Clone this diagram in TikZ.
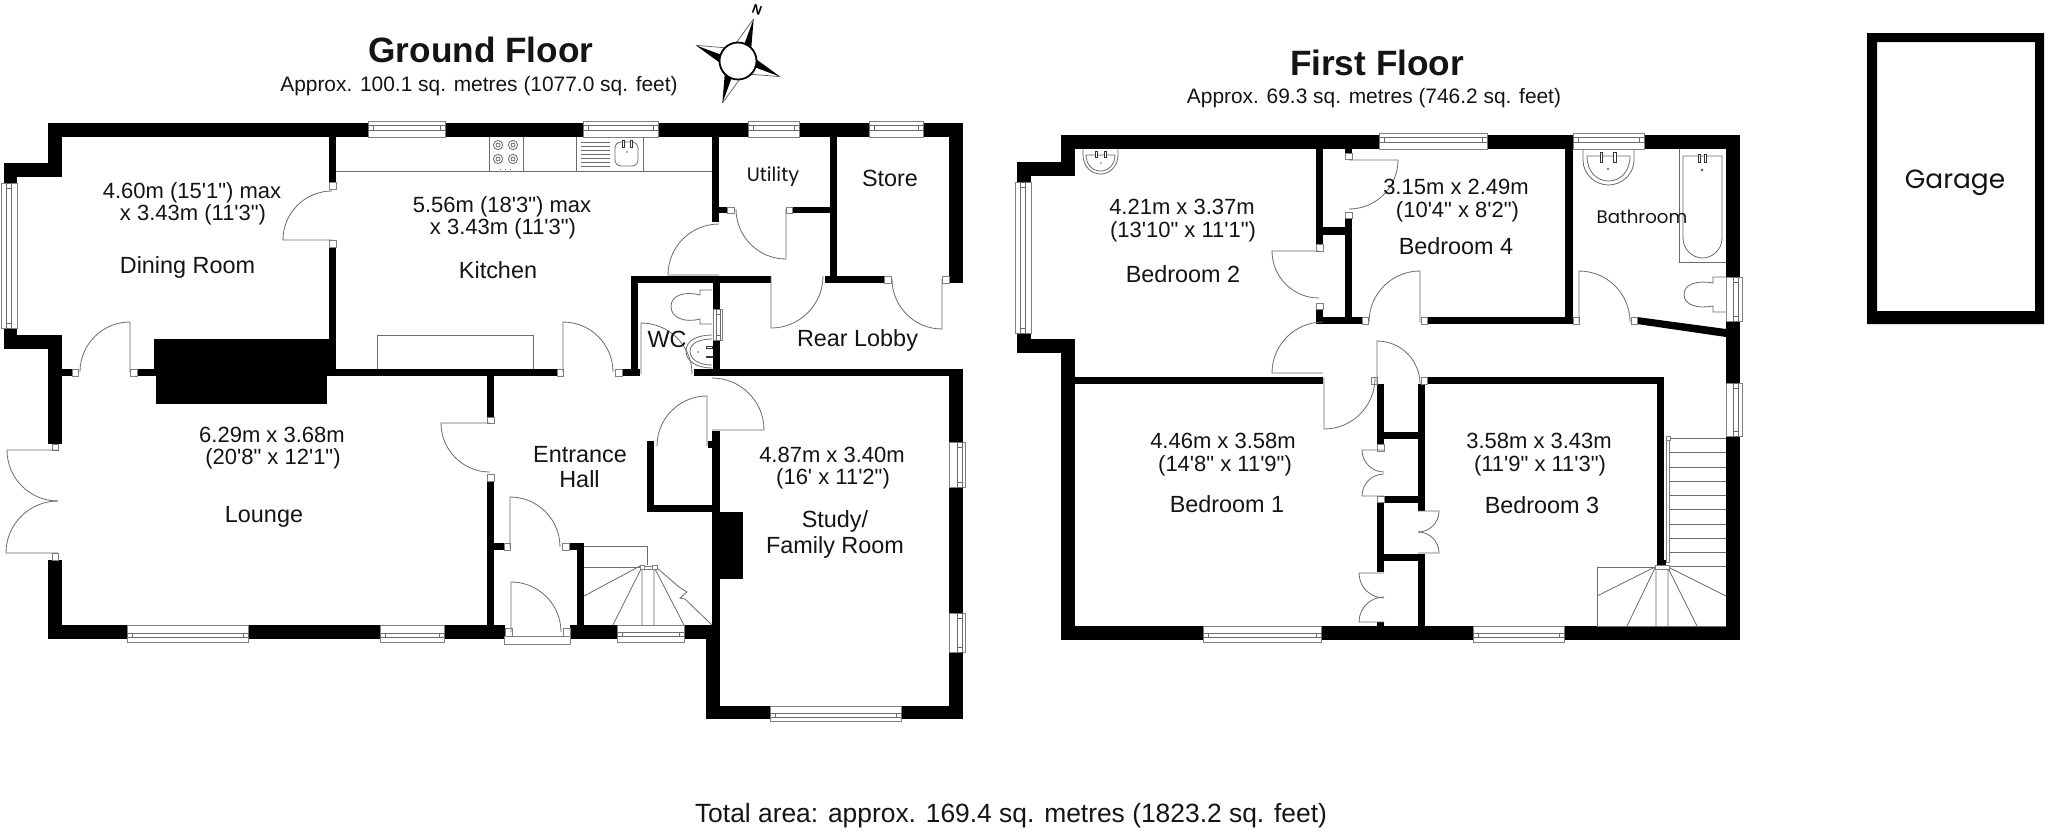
\documentclass[tikz,border=0pt]{standalone}
\usepackage{fontspec}
\newfontfamily\arial{Liberation Sans}
\newfontfamily\geo{Poppins}
\tikzset{
  wall/.style={fill=black},
  thin line/.style={draw=black!58,line width=0.4pt},
  frame box/.style={draw=black!50,line width=0.4pt,fill=white},
  tap/.style={draw=black!80,line width=0.35pt,fill=white},
  lbl/.style={anchor=base,inner sep=0pt,outer sep=0pt,text=black!92}
}
\newcommand{\W}[4]{\fill[wall] (#1,#2) rectangle (#3,#4);}
\newcommand{\Fr}[4]{\draw[frame box] (#1,#2) rectangle (#3,#4);}
% door: hinge x,y, start angle, end angle, radius
\newcommand{\Dr}[5]{\draw[thin line] (#1,#2) -- ++(#3:#5) arc[start angle=#3,end angle=#4,radius=#5];}
\newcommand{\WinH}[6]{\draw[frame box] (#1,#3) rectangle (#2,#4);
  \draw[thin line] (#1,#5) rectangle (#1+5,#6) (#2-5,#5) rectangle (#2,#6) (#1+5,#5) rectangle (#2-5,#6);}
\newcommand{\WinV}[6]{\draw[frame box] (#1,#3) rectangle (#2,#4);
  \draw[thin line] (#5,#3) rectangle (#6,#3+5) (#5,#4-5) rectangle (#6,#4) (#5,#3+5) rectangle (#6,#4-5);}
\newcommand{\Tx}[4]{\node[lbl,font=\arial\fontsize{#1}{#1}\selectfont] at (#2,#3) {#4};}
\newcommand{\Ring}[2]{\draw[thin line] (#1,#2) circle[radius=4.6] (#1,#2) circle[radius=2];}
\usetikzlibrary{calc}
\begin{document}
\begin{tikzpicture}[x=0.5pt,y=-0.5pt]
\useasboundingbox (0,0) rectangle (2048,832);
\fill[white] (0,0) rectangle (2048,832);

%% ===== GROUND FLOOR WALLS =====
\W{48}{123}{963}{137}      % top
\W{48}{123}{62}{177}
\W{4}{163}{62}{177}
\W{4}{163}{17}{184}
\W{4}{327}{17}{349}
\W{4}{335}{62}{349}
\W{48}{335}{62}{444}
\W{48}{560}{62}{639}
\W{48}{625}{505}{639}      % bottom
\W{570}{625}{720}{639}
\W{62}{369}{72}{376}       % dining / lounge
\W{137}{369}{154}{376}
\W{154}{339}{336}{369}     % chimney
\W{154}{369}{336}{376}
\W{156}{376}{327}{404}
\W{336}{369}{557}{376}
\W{622}{369}{640}{376}
\W{694}{369}{963}{376}
\W{329}{137}{336}{182}     % dining / kitchen
\W{329}{247}{336}{339}
\W{487}{376}{494}{417}     % lounge / hall
\W{487}{481}{494}{625}
\W{494}{543}{504}{550}     % porch
\W{569}{543}{584}{550}
\W{577}{543}{584}{625}
\W{712}{137}{719}{222}     % utility
\W{719}{207}{727}{213}
\W{792}{207}{830}{213}
\W{830}{137}{837}{276}     % store
\W{631}{276}{771}{283}     % rear
\W{825}{276}{884}{283}
\W{830}{270}{837}{283}
\W{949}{123}{963}{283}
\W{631}{276}{638}{376}     % WC
\W{713}{283}{720}{376}
\W{949}{369}{963}{719}     % study
\W{706}{625}{720}{719}
\W{706}{706}{963}{719}
\W{712}{431}{720}{625}
\W{720}{512}{743}{579}
\W{647}{441}{654}{512}
\W{647}{505}{720}{512}
\W{708}{441}{712}{448}

%% ===== GROUND FLOOR WINDOWS =====
\WinH{368}{445}{121}{137}{125}{130}
\WinH{583}{658}{121}{137}{125}{130}
\WinH{748}{799}{121}{137}{125}{130}
\WinH{869}{923}{121}{137}{125}{130}
\WinH{127}{248}{625}{642}{633}{637}
\WinH{380}{444}{625}{642}{633}{637}
\WinH{617}{684}{625}{642}{632}{636}
\WinH{770}{901}{706}{721}{713}{717}
\WinV{1.5}{17}{183}{328}{6}{11}
\WinV{949}{965}{442}{487}{957}{962}
\WinV{949}{965}{613}{652}{957}{962}
\WinV{713}{722}{309}{340}{716}{720}

%% frames
\Fr{329}{182}{336}{189}\Fr{329}{240}{336}{247}
\Fr{72}{369}{78}{376}\Fr{130}{369}{137}{376}
\Fr{52}{444}{58}{450}\Fr{52}{553}{58}{560}
\Fr{557}{369}{563}{376}\Fr{615}{369}{622}{376}
\Fr{487}{417}{494}{423}\Fr{487}{474}{494}{481}
\Fr{504}{543}{510}{550}\Fr{562}{543}{569}{550}
\Fr{505}{628}{512}{636}\Fr{563}{628}{570}{636}
\Fr{727}{207}{734}{213}\Fr{786}{207}{792}{213}
\Fr{884}{276}{891}{283}\Fr{942}{276}{949}{283}
\draw[frame box] (504,636) rectangle (570,644);

%% doors
\Dr{130}{372}{-90}{-180}{50}
\Dr{332}{240}{180}{270}{49}
\Dr{58}{450}{180}{90}{51}
\Dr{58}{553}{180}{270}{52}
\Dr{490}{423}{180}{90}{49}
\Dr{510}{547}{-90}{0}{50}
\Dr{511}{632}{-90}{0}{50}
\Dr{707}{446}{-90}{-180}{50}
\Dr{712}{430}{0}{-90}{52}
\Dr{563}{372}{-90}{0}{50}
\Dr{641}{374}{-90}{0}{51}
\Dr{786}{209}{90}{180}{50}
\Dr{719}{275}{180}{270}{51}
\Dr{771}{276}{90}{0}{52}
\Dr{942}{279}{90}{180}{50}

%% kitchen fittings
\draw[thin line] (336,171) -- (712,171);
\draw[thin line] (489,137) -- (489,171) (523,137) -- (523,171);
\Ring{498}{145}\Ring{513}{145}\Ring{498}{159}\Ring{513}{159}
\draw[thin line,dotted] (500,169) -- (514,169);
\draw[thin line] (576,137) -- (576,171) (643,137) -- (643,171);
\foreach \yy in {142,146,150,154,158,162,166} \draw[thin line] (581,\yy) -- (610,\yy);
\draw[thin line,rounded corners=3pt] (615,142) rectangle (638,166);
\draw[tap] (622,140) rectangle (624,147) (630,140) rectangle (632,147);
\fill[black!60] (627,152) circle[radius=0.9];
\draw[thin line] (377,369) -- (377,335) -- (533,335) -- (533,369);

%% WC fittings
\draw[thin line] (712,290) -- (700,290) -- (700,295) .. controls (685,291) and (671,295) .. (671,306.5) .. controls (671,318) and (685,323) .. (700,319) -- (700,324) -- (712,324);
\draw[thin line] (712,335) .. controls (698,335) and (686,340) .. (686,351) .. controls (686,362) and (698,368) .. (712,368);
\draw[thin line] (712,339) .. controls (700,339) and (690,343) .. (690,351) .. controls (690,360) and (700,365) .. (712,365);
\draw[tap] (706,346.5) rectangle (712,348) (706,356) rectangle (712,357.5);
\fill[black!60] (698,352) circle[radius=0.9];

%% ground stairs
\draw[thin line] (584,546) -- (647,546) -- (647,565);
\draw[thin line] (584,567) -- (640,567);
\draw[thin line] (640,566) -- (584,596) (641,569) -- (613,625) (642,569) -- (642,625) (654,569) -- (654,625) (655,569) -- (684,625);
\draw[thin line] (657,568) -- (679,587) -- (687,592) -- (680,598) -- (685,599) -- (712,625);
\draw[frame box] (644,566) rectangle (652,569);
\draw[frame box] (640,565) rectangle (644,569);
\draw[frame box] (652,565) rectangle (657,569);

%% ===== FIRST FLOOR WALLS =====
\W{1061}{135}{1740}{149}
\W{1061}{135}{1075}{176}
\W{1017}{162}{1075}{176}
\W{1017}{162}{1031}{182}
\W{1017}{333}{1031}{353}
\W{1017}{339}{1075}{353}
\W{1061}{339}{1075}{640}
\W{1061}{626}{1740}{640}
\W{1726}{135}{1740}{640}
\W{1075}{377}{1323}{384}
\W{1316}{149}{1323}{244}
\W{1316}{309}{1323}{324}
\W{1323}{317}{1362}{324}
\W{1323}{227}{1348}{235}
\W{1345}{218}{1352}{320}
\W{1345}{149}{1352}{153}
\W{1427}{317}{1573}{324}
\W{1565}{149}{1573}{324}
\fill[wall] (1637,317) -- (1726,329) -- (1726,337) -- (1637,324) -- cycle;
\W{1377}{384}{1384}{444}
\W{1377}{502}{1384}{572}
\W{1377}{622}{1384}{630}
\W{1418}{384}{1425}{511}
\W{1418}{554}{1425}{630}
\W{1384}{432}{1418}{439}
\W{1384}{496}{1418}{503}
\W{1384}{554}{1425}{561}
\W{1427}{377}{1664}{384}
\W{1657}{377}{1664}{560}
\W{1657}{560}{1666}{566}

%% first floor windows
\WinH{1379}{1487}{133}{149}{137}{142}
\WinH{1573}{1644}{133}{149}{137}{142}
\WinH{1203}{1321}{626}{642}{633}{637}
\WinH{1473}{1564}{626}{642}{633}{637}
\WinV{1015}{1031}{182}{333}{1020}{1025}
\WinV{1726}{1742}{277}{321}{1733}{1738}
\WinV{1726}{1742}{383}{436}{1733}{1738}

%% frames
\Fr{1345}{153}{1352}{159}\Fr{1345}{212}{1352}{218}
\Fr{1316}{244}{1323}{251}\Fr{1316}{303}{1323}{309}
\Fr{1362}{317}{1368}{324}\Fr{1421}{317}{1427}{324}
\Fr{1573}{317}{1579}{324}\Fr{1631}{317}{1637}{324}
\Fr{1371}{377}{1377}{384}\Fr{1421}{377}{1427}{384}
\Fr{1377}{444}{1384}{451}\Fr{1377}{496}{1384}{502}

%% doors
\Dr{1349}{160}{0}{90}{49}
\Dr{1319}{251}{180}{90}{47}
\Dr{1323}{373}{180}{270}{51}
\Dr{1324}{378}{90}{0}{51}
\Dr{1377}{384}{-90}{0}{43}
\Dr{1420}{322}{-90}{-180}{51}
\Dr{1579}{322}{-90}{0}{51}
\Dr{1384}{450}{180}{90}{22}
\Dr{1384}{496}{180}{270}{22}
\Dr{1384}{573}{180}{90}{25}
\Dr{1384}{622}{180}{270}{25}
\Dr{1418}{511}{0}{90}{21}
\Dr{1418}{553}{0}{-90}{21}

%% first floor fittings
\draw[thin line] (1083,149) -- (1083,155) .. controls (1083,167) and (1092,174) .. (1100.5,174) .. controls (1109,174) and (1118,167) .. (1118,155) -- (1118,149);
\draw[thin line] (1086,155) .. controls (1086,165) and (1093,171) .. (1100.5,171) .. controls (1108,171) and (1115,165) .. (1115,155) -- cycle;
\draw[tap] (1095,151) rectangle (1097,157) (1104,151) rectangle (1106,157);
\fill[black!60] (1101,163) circle[radius=0.9];

\draw[thin line] (1583,149) -- (1583,160) .. controls (1583,175) and (1596,185) .. (1608.5,185) .. controls (1621,185) and (1634,175) .. (1634,160) -- (1634,149);
\draw[thin line] (1587,156) .. controls (1587,172) and (1597,181) .. (1608.5,181) .. controls (1620,181) and (1630,172) .. (1630,156) -- cycle;
\draw[tap] (1600,152) rectangle (1602.5,162) (1613.5,152) rectangle (1616,162);
\fill[black!60] (1608,169) circle[radius=1.2];

\draw[thin line] (1679,149) -- (1679,262) -- (1726,262);
\draw[thin line] (1683,156) -- (1722,156) -- (1722,238) .. controls (1722,250) and (1712,258) .. (1702.5,258) .. controls (1693,258) and (1683,250) .. (1683,238) -- cycle;
\draw[tap] (1698,154) rectangle (1700,162) (1704.5,154) rectangle (1706.5,162);
\draw[thin line] (1702,170) circle[radius=1];

\draw[thin line] (1726,277) -- (1713,277) -- (1713,283) .. controls (1697,280) and (1684,284) .. (1684,294.5) .. controls (1684,305) and (1697,309) .. (1713,306) -- (1713,312) -- (1726,312);

%% first floor stairs
\foreach \yy in {438.3,452.7,467,481.3,495.3,509.7,524,538.3,552.7,566.7} \draw[thin line] (1669,\yy) -- (1726,\yy);
\draw[frame box] (1666,438) rectangle (1669,562);
\draw[frame box] (1666,436) rectangle (1670,440);
\draw[thin line] (1597,626) -- (1597,567) -- (1655,567);
\draw[thin line] (1597,626) -- (1726,626);
\draw[thin line] (1655,567) -- (1597,596) (1655,568) -- (1627,626) (1656,568) -- (1656,626) (1668,568) -- (1668,626) (1668,568) -- (1697,626) (1668,567) -- (1726,596);
\draw[frame box] (1655,565) rectangle (1669,569);

%% ===== GARAGE =====
\fill[wall,even odd rule] (1867,33) rectangle (2044,324) (1877,42) rectangle (2035,311);

%% ===== COMPASS =====
\foreach \aa in {-69.6,110.4} {
  \fill[black] ($(738,61)+(\aa:45)$) -- ($(738,61)+(\aa+24:19)$) -- ($(738,61)+(\aa:19)$) -- cycle;
  \draw[thin line] ($(738,61)+(\aa:45)$) -- ($(738,61)+(\aa-24:19)$);
}
\foreach \aa in {20.4,200.4} {
  \fill[black] ($(738,61)+(\aa:45)$) -- ($(738,61)+(\aa-24:19)$) -- ($(738,61)+(\aa:19)$) -- cycle;
  \draw[thin line] ($(738,61)+(\aa:45)$) -- ($(738,61)+(\aa+24:19)$);
}
\draw[black,line width=0.9pt,fill=white] (738,61) circle[radius=18.5];
\node[inner sep=0pt,rotate=-20,font=\arial\bfseries\fontsize{6.5}{6.5}\selectfont] at (757,10) {N};

%% ===== TEXT =====
\node[lbl,font=\arial\bfseries\fontsize{17.6}{17.6}\selectfont] at (481,62) {Ground Floor};
\node[lbl,font=\arial\bfseries\fontsize{17.6}{17.6}\selectfont] at (1377,75) {First Floor};
\Tx{10.45}{479}{91}{Approx. 100.1 sq. metres (1077.0 sq. feet)}
\Tx{10.45}{1374}{103}{Approx. 69.3 sq. metres (746.2 sq. feet)}
\Tx{13.2}{1011}{822}{Total area: approx. 169.4 sq. metres (1823.2 sq. feet)}

\Tx{11}{192}{198}{4.60m (15'1") max}
\Tx{11}{193}{220}{x 3.43m (11'3")}
\Tx{11.7}{187.5}{273}{Dining Room}
\Tx{11}{502}{212}{5.56m (18'3") max}
\Tx{11}{503}{234}{x 3.43m (11'3")}
\Tx{11.7}{498}{278}{Kitchen}
\Tx{11.7}{890}{186}{Store}
\Tx{11.7}{857.5}{346}{Rear Lobby}
\Tx{11.7}{667}{347}{WC}
\Tx{11}{272}{442}{6.29m x 3.68m}
\Tx{11}{273}{464}{(20'8" x 12'1")}
\Tx{11.7}{264}{522}{Lounge}
\Tx{11.7}{580}{462}{Entrance}
\Tx{11.7}{579.5}{487}{Hall}
\Tx{11}{832}{462}{4.87m x 3.40m}
\Tx{11}{833}{484}{(16' x 11'2")}
\Tx{11.7}{835}{527}{Study/}
\Tx{11.7}{835}{553}{Family Room}

\Tx{11}{1182}{214}{4.21m x 3.37m}
\Tx{11}{1183}{237}{(13'10" x 11'1")}
\Tx{11.7}{1183}{282}{Bedroom 2}
\Tx{11}{1456}{194}{3.15m x 2.49m}
\Tx{11}{1457.5}{217}{(10'4" x 8'2")}
\Tx{11.7}{1456}{254}{Bedroom 4}
\Tx{11}{1223}{448}{4.46m x 3.58m}
\Tx{11}{1225}{471}{(14'8" x 11'9")}
\Tx{11.7}{1227}{512}{Bedroom 1}
\Tx{11}{1539}{448}{3.58m x 3.43m}
\Tx{11}{1540}{471}{(11'9" x 11'3")}
\Tx{11.7}{1542}{513}{Bedroom 3}

\node[lbl,font=\geo\fontsize{9.7}{9.7}\selectfont] at (773,181) {Utility};
\node[lbl,font=\geo\fontsize{9.1}{9.1}\selectfont] at (1642,223) {Bathroom};
\node[lbl,font=\geo\fontsize{13.2}{13.2}\selectfont] at (1955,188) {Garage};
\end{tikzpicture}
\end{document}
